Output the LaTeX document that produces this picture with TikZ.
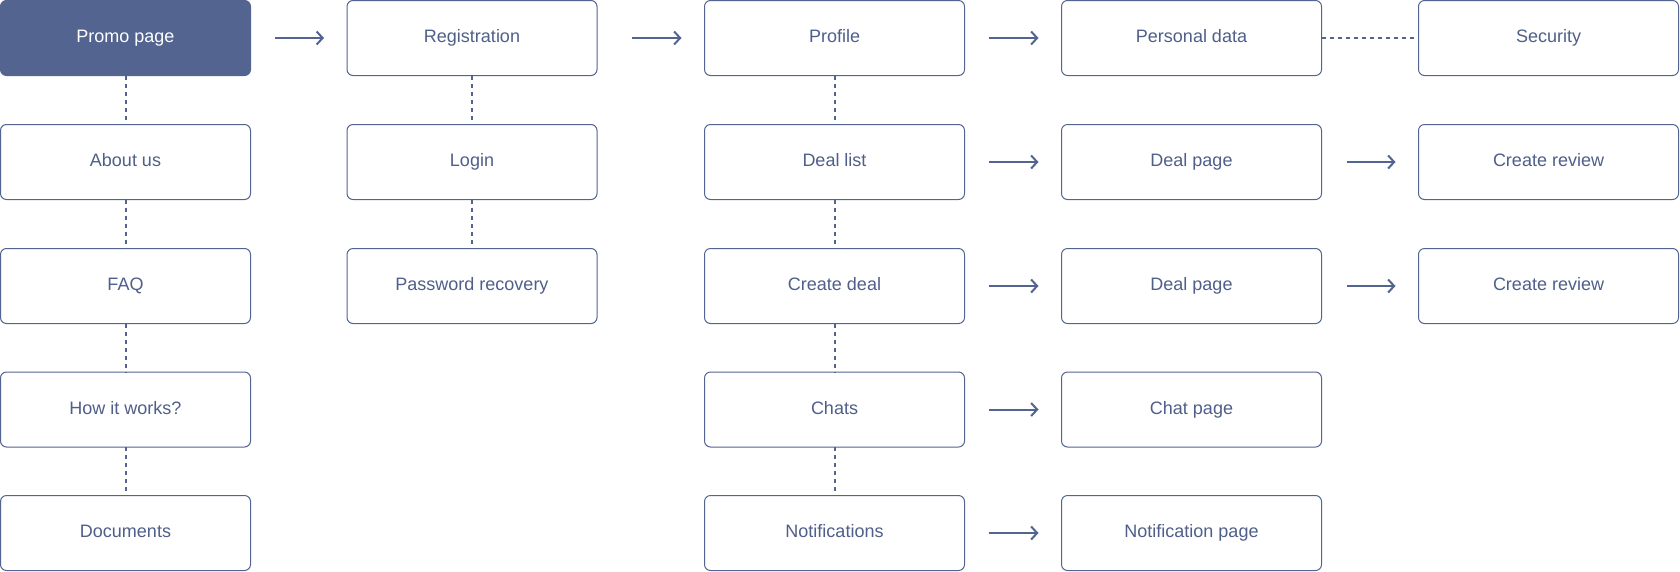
\documentclass[tikz,border=0pt]{standalone}
\usepackage{fontspec}
\setmainfont{Liberation Sans}
\usetikzlibrary{arrows.meta}
\definecolor{navy}{HTML}{536490}
\definecolor{ink}{HTML}{4F5F8A}
\tikzset{
  x=1pt, y=-1pt,
  pagebox/.style={draw=navy, line width=1pt, rounded corners=6pt, fill=white,
    minimum height=75pt, inner sep=0pt, outer sep=0pt, text=ink,
    text height=13pt, text depth=4pt,
    font=\fontsize{18}{20}\selectfont},
  narrowbox/.style={pagebox, minimum width=250pt},
  widebox/.style={pagebox, minimum width=260pt},
  promobox/.style={narrowbox, fill=navy, text=white},
  flow/.style={draw=navy, line width=2pt, -{Straight Barb[length=6pt,width=13pt,line width=2pt]}, shorten >=23pt},
  link/.style={draw=navy, line width=2pt, dash pattern=on 4pt off 4pt},
}
\begin{document}
\begin{tikzpicture}
\useasboundingbox (0,0) rectangle (1680,571);
% column 0
\node[promobox]  (promo) at (125.5,38)  {Promo page};
\node[narrowbox] (about) at (125.5,162) {About us};
\node[narrowbox] (faq)   at (125.5,286) {FAQ};
\node[narrowbox] (how)   at (125.5,409.5) {How it works?};
\node[narrowbox] (docs)  at (125.5,533) {Documents};
% column 1
\node[narrowbox] (reg)   at (472,38)  {Registration};
\node[narrowbox] (login) at (472,162) {Login};
\node[narrowbox] (pwd)   at (472,286) {Password recovery};
% column 2
\node[widebox] (profile) at (834.5,38)  {Profile};
\node[widebox] (deals)   at (834.5,162) {Deal list};
\node[widebox] (create)  at (834.5,286) {Create deal};
\node[widebox] (chats)   at (834.5,409.5) {Chats};
\node[widebox] (notif)   at (834.5,533) {Notifications};
% column 3
\node[widebox] (personal) at (1191.5,38)  {Personal data};
\node[widebox] (dealpA)   at (1191.5,162) {Deal page};
\node[widebox] (dealpB)   at (1191.5,286) {Deal page};
\node[widebox] (chatp)    at (1191.5,409.5) {Chat page};
\node[widebox] (notifp)   at (1191.5,533) {Notification page};
% column 4
\node[widebox] (security) at (1548.5,38)  {Security};
\node[widebox] (reviewA)  at (1548.5,162) {Create review};
\node[widebox] (reviewB)  at (1548.5,286) {Create review};
% dotted links
\draw[link] (promo.south) -- (about.north);
\draw[link] (about.south) -- (faq.north);
\draw[link] (faq.south) -- (how.north);
\draw[link] (how.south) -- (docs.north);
\draw[link] (reg.south) -- (login.north);
\draw[link] (login.south) -- (pwd.north);
\draw[link] (profile.south) -- (deals.north);
\draw[link] (deals.south) -- (create.north);
\draw[link] (create.south) -- (chats.north);
\draw[link] (chats.south) -- (notif.north);
\draw[link] (personal.east) -- (security.west);
% arrows
\draw[flow, shorten <=24pt] (promo.east) -- (reg.west);
\draw[flow, shorten <=35pt] (reg.east) -- (profile.west);
\draw[flow, shorten <=24pt] (profile.east) -- (personal.west);
\draw[flow, shorten <=24pt] (deals.east) -- (dealpA.west);
\draw[flow, shorten <=24pt] (create.east) -- (dealpB.west);
\draw[flow, shorten <=24pt] (chats.east) -- (chatp.west);
\draw[flow, shorten <=24pt] (notif.east) -- (notifp.west);
\draw[flow, shorten <=25pt] (dealpA.east) -- (reviewA.west);
\draw[flow, shorten <=25pt] (dealpB.east) -- (reviewB.west);
\end{tikzpicture}
\end{document}
